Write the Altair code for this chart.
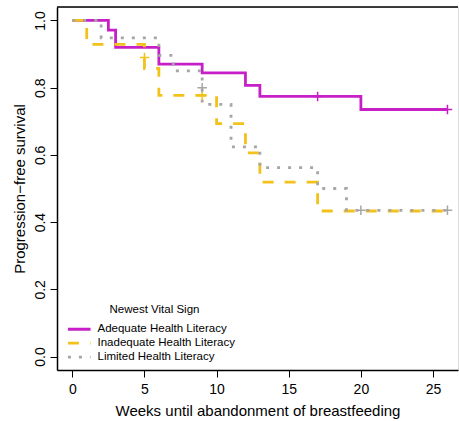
import altair as alt
import pandas as pd

# Kaplan-Meier steps (weeks, survival)
groups = ["Adequate Health Literacy", "Inadequate Health Literacy", "Limited Health Literacy"]

adequate_time = [0, 2.5, 3, 6, 9, 12, 13, 20, 26]
adequate_surv = [1.0, 0.971, 0.920, 0.870, 0.844, 0.807, 0.774, 0.735, 0.735]

inadequate_time = [0, 1, 5, 6, 10, 12, 13, 17, 26]
inadequate_surv = [1.0, 0.929, 0.857, 0.777, 0.693, 0.606, 0.519, 0.433, 0.433]

limited_time = [0, 2, 6, 7, 9, 11, 13, 17, 19, 26]
limited_surv = [1.0, 0.948, 0.896, 0.850, 0.750, 0.624, 0.562, 0.500, 0.435, 0.435]

# censoring marks
adequate_cens_time = [17, 26]
adequate_cens_surv = [0.774, 0.735]
inadequate_cens_time = [5, 9]
inadequate_cens_surv = [0.89, 0.777]
limited_cens_time = [9, 20, 26]
limited_cens_surv = [0.80, 0.435, 0.435]

colors = ["#C71FC7", "#F2C21B", "#A6A6A6"]
dashes = [[1, 0], [11, 11], [3, 8]]

x_ticks = [0, 5, 10, 15, 20, 25]
y_ticks = [0.0, 0.2, 0.4, 0.6, 0.8, 1.0]

curves = pd.concat([
    pd.DataFrame({"week": adequate_time, "surv": adequate_surv, "group": groups[0]}),
    pd.DataFrame({"week": inadequate_time, "surv": inadequate_surv, "group": groups[1]}),
    pd.DataFrame({"week": limited_time, "surv": limited_surv, "group": groups[2]}),
])
cens = pd.concat([
    pd.DataFrame({"week": adequate_cens_time, "surv": adequate_cens_surv, "group": groups[0]}),
    pd.DataFrame({"week": inadequate_cens_time, "surv": inadequate_cens_surv, "group": groups[1]}),
    pd.DataFrame({"week": limited_cens_time, "surv": limited_cens_surv, "group": groups[2]}),
])

FONT = "Liberation Sans"
xscale = alt.Scale(domain=[-1.06, 26.73], nice=False, zero=False)
yscale = alt.Scale(domain=[-0.04, 1.04], nice=False, zero=False)

xaxis = alt.Axis(values=x_ticks, title="Weeks until abandonment of breastfeeding",
                 tickSize=7, labelPadding=5, titlePadding=7, grid=False,
                 domain=True, domainColor="black", domainWidth=1.5,
                 tickColor="black", labelColor="black", titleColor="black",
                 labelFontSize=14, titleFontSize=15, titleFontWeight="normal",
                 labelFont=FONT, titleFont=FONT, labelFlush=False)
yaxis = alt.Axis(values=y_ticks, format=".1f", title="Progression\u2212free survival",
                 tickSize=7, labelPadding=3, titlePadding=6, grid=False,
                 domain=True, domainColor="black", domainWidth=1.5,
                 tickColor="black", labelColor="black", titleColor="black",
                 labelFontSize=14, titleFontSize=15, titleFontWeight="normal",
                 labelFont=FONT, titleFont=FONT, labelAngle=270,
                 labelAlign="center", labelBaseline="bottom", labelFlush=False)

legend = alt.Legend(orient="none", legendX=16.5, legendY=297, title="Newest Vital Sign",
                    titleFontSize=11.5, labelFontSize=11.5, titleFont=FONT, labelFont=FONT,
                    titleFontWeight="normal", titleColor="black", labelColor="black",
                    symbolType="M-4,0L4,0", symbolSize=32, symbolStrokeWidth=2.8,
                    labelOffset=12.5, rowPadding=0.9, titleAnchor="middle",
                    titlePadding=8, padding=0)

lines = alt.Chart(curves).mark_line(interpolate="step-after", strokeWidth=2.8).encode(
    x=alt.X("week:Q", scale=xscale, axis=xaxis),
    y=alt.Y("surv:Q", scale=yscale, axis=yaxis),
    color=alt.Color("group:N", scale=alt.Scale(domain=groups, range=colors), legend=legend),
    strokeDash=alt.StrokeDash("group:N", scale=alt.Scale(domain=groups, range=dashes), legend=legend),
)

marks = alt.Chart(cens).mark_point(shape="M-1,0L1,0M0,-1L0,1", size=90, filled=False,
                                   strokeWidth=1.5, opacity=1).encode(
    x="week:Q",
    y="surv:Q",
    stroke=alt.Stroke("group:N", scale=alt.Scale(domain=groups, range=colors), legend=None),
)

top = alt.Chart(pd.DataFrame({"v": [1.04]})).mark_rule(color="black", strokeWidth=1.5).encode(
    y=alt.Y("v:Q")
)

chart = alt.layer(lines, marks, top).properties(
    width=401, height=363,
    autosize=alt.AutoSizeParams(type="none"),
    padding={"left": 57, "top": 7, "right": 1, "bottom": 51},
).configure_view(strokeWidth=0).configure(background="white")

chart.save("out.html", embed_options={"renderer": "svg", "actions": False})
